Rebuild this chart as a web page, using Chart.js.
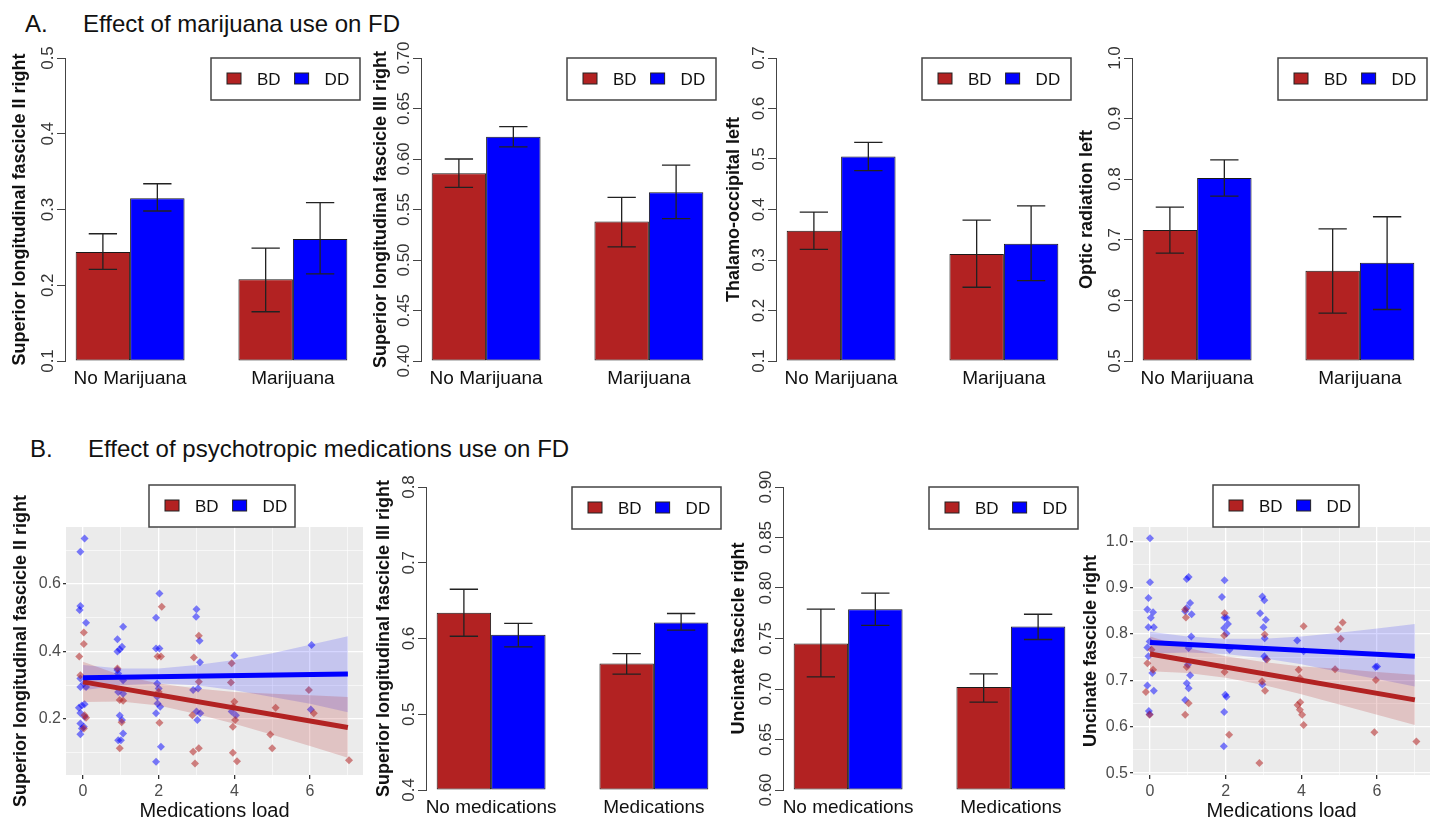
<!DOCTYPE html>
<html>
<head>
<meta charset="utf-8">
<script src="https://cdn.jsdelivr.net/npm/chart.js@4.4.1/dist/chart.umd.min.js"></script>
<style>
  body { margin: 0; background: #fff; font-family: "Liberation Sans", Arial, sans-serif; }
  #page { position: relative; width: 1434px; height: 823px; overflow: hidden; background: #fff; }
  .ttl { position: absolute; font-size: 24px; line-height: 24px; color: #111; white-space: nowrap; }
  canvas { position: absolute; }
</style>
</head>
<body>
<div id="page">
  <div class="ttl" style="left:25px;top:12px">A.</div>
  <div class="ttl" style="left:83px;top:12px">Effect of marijuana use on FD</div>
  <div class="ttl" style="left:30px;top:437px">B.</div>
  <div class="ttl" style="left:88px;top:437px">Effect of psychotropic medications use on FD</div>
</div>
<script>
'use strict';

// ---- data ----
const groupsMj = ['No Marijuana', 'Marijuana'];
const groupsMed = ['No medications', 'Medications'];

// A1 superior longitudinal fascicle II right
const a1Bd = [0.244, 0.208];
const a1BdCi = [[0.221, 0.268], [0.165, 0.249]];
const a1Dd = [0.315, 0.261];
const a1DdCi = [[0.298, 0.334], [0.215, 0.309]];
// A2 superior longitudinal fascicle III right
const a2Bd = [0.586, 0.538];
const a2BdCi = [[0.572, 0.600], [0.513, 0.562]];
const a2Dd = [0.622, 0.567];
const a2DdCi = [[0.612, 0.632], [0.541, 0.594]];
// A3 thalamo-occipital left
const a3Bd = [0.358, 0.312];
const a3BdCi = [[0.321, 0.395], [0.246, 0.379]];
const a3Dd = [0.505, 0.332];
const a3DdCi = [[0.477, 0.533], [0.259, 0.407]];
// A4 optic radiation left
const a4Bd = [0.716, 0.649];
const a4BdCi = [[0.678, 0.754], [0.579, 0.718]];
const a4Dd = [0.802, 0.662];
const a4DdCi = [[0.772, 0.832], [0.585, 0.738]];
// B2 superior longitudinal fascicle III right
const b2Bd = [0.634, 0.567];
const b2BdCi = [[0.603, 0.665], [0.553, 0.580]];
const b2Dd = [0.605, 0.621];
const b2DdCi = [[0.589, 0.620], [0.611, 0.633]];
// B3 uncinate fascicle right
const b3Bd = [0.745, 0.702];
const b3BdCi = [[0.712, 0.779], [0.687, 0.715]];
const b3Dd = [0.779, 0.762];
const b3DdCi = [[0.763, 0.795], [0.749, 0.774]];

// B1 scatter, SLF II right vs medications load
const b1DdX = [0.04, -0.07, -0.07, -0.09, 0.08, -0.07, 0.02, -0.07, 0.08, -0.11, -0.03, 0.04, -0.07, 0.04, -0.07, 0.02, -0.03, -0.07,
  1.06, 0.91, 0.97, 1.03, 0.91, 0.91, 0.93, 1.06, 0.93, 1.06, 0.97, 1.03, 1.06, 1.0, 0.93,
  2.02, 1.93, 1.93, 2.02, 1.96, 2.0, 1.96, 2.04, 1.93, 2.06, 1.93, 1.97,
  3.0, 2.99, 3.08, 3.09, 2.91, 3.04, 3.0, 3.1, 3.02,
  4.0, 3.93, 4.04, 6.04, 6.02];
const b1DdY = [0.735, 0.696, 0.535, 0.523, 0.485, 0.32, 0.305, 0.295, 0.295, 0.233, 0.24, 0.244, 0.218, 0.207, 0.187, 0.177, 0.172, 0.155,
  0.473, 0.436, 0.406, 0.414, 0.40, 0.345, 0.335, 0.315, 0.28, 0.275, 0.21, 0.197, 0.157, 0.137, 0.137,
  0.572, 0.50, 0.409, 0.409, 0.305, 0.29, 0.266, 0.236, 0.217, 0.118, 0.073, 0.246,
  0.525, 0.503, 0.432, 0.368, 0.286, 0.29, 0.222, 0.217, 0.197,
  0.388, 0.222, 0.211, 0.419, 0.228];
const b1BdX = [-0.1, 0.02, 0.02, -0.07, 0.04, 0.08, 0.02,
  0.91, 0.97, 1.06, 1.02, 0.97,
  2.08, 2.06, 1.97, 2.02, 2.0,
  2.93, 3.06, 3.06, 2.89, 2.91, 3.06, 2.96,
  3.93, 3.91, 4.0, 3.97, 4.02, 3.96, 3.96, 4.07,
  5.09, 4.95, 5.0, 5.97, 6.1, 7.03];
const b1BdY = [0.385, 0.456, 0.422, 0.33, 0.211, 0.204, 0.172,
  0.35, 0.256, 0.254, 0.19, 0.113,
  0.533, 0.385, 0.385, 0.189, 0.28,
  0.382, 0.447, 0.31, 0.211, 0.103, 0.113, 0.068,
  0.365, 0.308, 0.251, 0.236, 0.197, 0.177, 0.10, 0.075,
  0.233, 0.154, 0.113, 0.286, 0.217, 0.078];

// B4 scatter, uncinate fascicle right vs medications load
const b4DdX = [0, 0, -0.04, -0.07, 0.08, 0.02, 0.1, -0.04, -0.01, -0.04, 0.06, 0.1, -0.07, -0.03, -0.01, -0.07,
  1.02, 0.97, 1.06, 0.97, 0.93, 1.1, 1.09, 1.02, 1.0, 1.06, 0.97, 1.02, 0.93,
  1.97, 1.9, 1.97, 2.02, 1.96, 2.02, 2.06, 2.1, 1.99, 2.02, 1.96, 1.95,
  2.97, 3.02, 2.91, 3.06, 3.0, 3.03, 3.02, 3.06, 2.97,
  3.89, 4.06, 6.0, 5.96];
const b4DdY = [1.007, 0.912, 0.878, 0.853, 0.847, 0.835, 0.815, 0.815, 0.784, 0.752, 0.716, 0.678, 0.689, 0.634, 0.627, 0.771,
  0.923, 0.919, 0.867, 0.856, 0.849, 0.843, 0.795, 0.77, 0.734, 0.711, 0.694, 0.683, 0.658,
  0.916, 0.88, 0.836, 0.835, 0.813, 0.801, 0.822, 0.766, 0.669, 0.665, 0.632, 0.558,
  0.881, 0.873, 0.845, 0.831, 0.815, 0.791, 0.752, 0.746, 0.691,
  0.786, 0.763, 0.73, 0.729];
const b4BdX = [-0.07, 0.08, -0.11, -0.01, 0.04,
  0.93, 0.95, 0.97, 1.02, 0.93,
  1.97, 1.96, 1.97, 2.09,
  3.03, 3.09, 2.96, 3.04, 2.89,
  4.06, 3.93, 3.96, 3.9, 3.97, 3.96, 4.02, 4.06,
  5.09, 4.97, 5.04, 4.89, 5.97, 5.93, 7.04];
const b4BdY = [0.737, 0.723, 0.675, 0.626, 0.766,
  0.853, 0.836, 0.729, 0.651, 0.626,
  0.845, 0.797, 0.718, 0.583,
  0.799, 0.745, 0.698, 0.678, 0.522,
  0.817, 0.723, 0.705, 0.647, 0.653, 0.637, 0.626, 0.604,
  0.825, 0.811, 0.79, 0.724, 0.701, 0.588, 0.568];

// fitted lines and confidence bands
const fitX = [0, 7];
const b1BdFit = [0.310, 0.175];
const b1DdFit = [0.322, 0.333];
const b4BdFit = [0.757, 0.658];
const b4DdFit = [0.782, 0.752];
const bandX = [0, 1, 2, 3, 4, 5, 6, 7];
const b1BdLo = [0.250, 0.252, 0.240, 0.215, 0.186, 0.153, 0.120, 0.085];
const b1BdHi = [0.370, 0.330, 0.305, 0.290, 0.280, 0.275, 0.270, 0.265];
const b1DdLo = [0.285, 0.300, 0.305, 0.300, 0.285, 0.265, 0.245, 0.220];
const b1DdHi = [0.360, 0.350, 0.350, 0.360, 0.375, 0.395, 0.420, 0.445];
const b4BdLo = [0.720, 0.716, 0.706, 0.690, 0.670, 0.648, 0.626, 0.604];
const b4BdHi = [0.795, 0.770, 0.752, 0.740, 0.730, 0.725, 0.718, 0.712];
const b4DdLo = [0.758, 0.760, 0.757, 0.748, 0.735, 0.718, 0.703, 0.687];
const b4DdHi = [0.805, 0.795, 0.790, 0.790, 0.795, 0.803, 0.812, 0.822];

// ---- drawing ----
const RED = '#B22222';
const BLUE = '#0000FF';
const FONT = '"Liberation Sans", Arial, sans-serif';
Chart.defaults.font.family = FONT;
Chart.defaults.devicePixelRatio = 1;

function addCanvas(left, top, w, h) {
  let c = document.createElement('canvas');
  c.width = w;
  c.height = h;
  c.style.left = left + 'px';
  c.style.top = top + 'px';
  document.getElementById('page').appendChild(c);
  return c;
}

// error bars from dataset.ci
const errBars = {
  id: 'errBars',
  afterDatasetsDraw(chart) {
    let ctx = chart.ctx, y = chart.scales.y;
    ctx.save();
    ctx.strokeStyle = '#222';
    ctx.lineWidth = 1.3;
    chart.data.datasets.forEach((ds, di) => {
      chart.getDatasetMeta(di).data.forEach((bar, i) => {
        let lo = y.getPixelForValue(ds.ci[i][0]);
        let hi = y.getPixelForValue(ds.ci[i][1]);
        let half = bar.width * 0.26;
        ctx.beginPath();
        ctx.moveTo(bar.x, lo); ctx.lineTo(bar.x, hi);
        ctx.moveTo(bar.x - half, lo); ctx.lineTo(bar.x + half, lo);
        ctx.moveTo(bar.x - half, hi); ctx.lineTo(bar.x + half, hi);
        ctx.stroke();
      });
    });
    ctx.restore();
  }
};

// R style y labels, parallel to the axis
const rotTicks = {
  id: 'rotTicks',
  afterDraw(chart) {
    let ctx = chart.ctx, y = chart.scales.y;
    ctx.save();
    ctx.font = '17px ' + FONT;
    ctx.fillStyle = '#333';
    ctx.textAlign = 'center';
    ctx.textBaseline = 'middle';
    y.ticks.forEach(t => {
      ctx.save();
      ctx.translate(chart.chartArea.left - 17, y.getPixelForValue(t.value));
      ctx.rotate(-Math.PI / 2);
      ctx.fillText(t.label, 0, 0);
      ctx.restore();
    });
    ctx.restore();
  }
};

// boxed legend like the R / ggplot one
const boxLegend = {
  id: 'boxLegend',
  afterDraw(chart, args, opts) {
    let ctx = chart.ctx, a = chart.chartArea;
    let x0 = a.left + opts.dx, y0 = a.top + opts.dy;
    ctx.save();
    ctx.fillStyle = '#fff';
    ctx.fillRect(x0, y0, opts.w, opts.h);
    ctx.strokeStyle = '#444';
    ctx.lineWidth = 1.5;
    ctx.strokeRect(x0, y0, opts.w, opts.h);
    ctx.font = '17px ' + FONT;
    ctx.textBaseline = 'middle';
    let x = x0 + 16, cy = y0 + opts.h / 2;
    chart.data.datasets.filter(d => d.key).forEach(ds => {
      ctx.fillStyle = ds.keyColor;
      ctx.fillRect(x, cy - 6, 14, 11);
      ctx.lineWidth = 1;
      ctx.strokeStyle = '#222';
      ctx.strokeRect(x, cy - 6, 14, 11);
      x += 30;
      ctx.fillStyle = '#111';
      ctx.fillText(ds.label, x, cy + 1);
      x += ctx.measureText(ds.label).width + 14;
    });
    ctx.restore();
  }
};

const panelBg = {
  id: 'panelBg',
  beforeDraw(chart) {
    let a = chart.chartArea, ctx = chart.ctx;
    ctx.save();
    ctx.fillStyle = '#EBEBEB';
    ctx.fillRect(a.left, a.top, a.right - a.left, a.bottom - a.top);
    ctx.restore();
  }
};

function barPanel(p) {
  let cv = addCanvas(p.axisX - 65, p.top - 28, 364, 363);
  let ds = (label, vals, ci, color) => ({
    label: label, data: vals.map((v, i) => ({ x: i, y: v })), ci: ci,
    backgroundColor: color, borderColor: '#1a1a1a', borderWidth: 1, borderSkipped: false,
    base: p.min, key: true, keyColor: color
  });
  new Chart(cv, {
    type: 'bar',
    data: { datasets: [ds('BD', p.bd, p.bdCi, RED), ds('DD', p.dd, p.ddCi, BLUE)] },
    options: {
      responsive: false,
      animation: false,
      layout: { padding: { top: 28, right: 6, left: p.pad, bottom: 0 } },
      datasets: { bar: { categoryPercentage: 0.669, barPercentage: 1 } },
      plugins: {
        legend: { display: false },
        tooltip: { enabled: false },
        boxLegend: { dx: 146, dy: 0, w: 149, h: 42 }
      },
      scales: {
        x: {
          type: 'linear', min: -0.4, max: 1.4, offset: false,
          afterBuildTicks: s => { s.ticks = p.groups.map((g, i) => ({ value: i })); },
          afterFit: s => { s.height = 32; },
          ticks: { callback: v => p.groups[v], font: { size: 19 }, color: '#111', padding: 6, maxRotation: 0, autoSkip: false },
          grid: { display: false, drawTicks: false },
          border: { display: false }
        },
        y: {
          min: p.min, max: p.max,
          afterFit: s => { s.width = 65 - p.pad; },
          ticks: { stepSize: p.step, color: 'rgba(0,0,0,0)', callback: v => v.toFixed(p.digits) },
          grid: { drawOnChartArea: false, tickLength: 8, tickColor: '#444', lineWidth: 1 },
          border: { color: '#444', width: 1 },
          title: { display: true, text: p.title, font: { size: 18, weight: 'bold' }, color: '#111', padding: 0 }
        }
      }
    },
    plugins: [errBars, rotTicks, boxLegend]
  });
}

function scatterPanel(p) {
  let cv = addCanvas(p.left, 440, p.width, 383);
  let pt = (xs, ys) => xs.map((x, i) => ({ x: x, y: ys[i] }));
  let band = (ys, fill, color) => ({
    type: 'line', data: pt(bandX, ys), fill: fill, backgroundColor: color,
    borderColor: 'rgba(0,0,0,0)', borderWidth: 0, pointRadius: 0, order: 3
  });
  let isMajor = (v, step) => Math.abs(v / step - Math.round(v / step)) < 1e-6;
  new Chart(cv, {
    type: 'scatter',
    data: {
      datasets: [
        { type: 'line', label: 'DD fit', data: pt(fitX, p.ddFit), borderColor: BLUE, borderWidth: 5, pointRadius: 0, order: 1 },
        { type: 'line', label: 'BD fit', data: pt(fitX, p.bdFit), borderColor: RED, borderWidth: 5, pointRadius: 0, order: 2 },
        band(p.bdHi, '+1', 'rgba(178,34,34,0.2)'),
        band(p.bdLo, false, 'rgba(0,0,0,0)'),
        band(p.ddHi, '+1', 'rgba(0,0,255,0.16)'),
        band(p.ddLo, false, 'rgba(0,0,0,0)'),
        { label: 'BD', data: pt(p.bdX, p.bdY), pointStyle: 'rectRot', pointRadius: 4, borderWidth: 0,
          backgroundColor: 'rgba(178,34,34,0.55)', key: true, keyColor: RED, order: 5 },
        { label: 'DD', data: pt(p.ddX, p.ddY), pointStyle: 'rectRot', pointRadius: 4, borderWidth: 0,
          backgroundColor: 'rgba(0,0,255,0.5)', key: true, keyColor: BLUE, order: 5 }
      ]
    },
    options: {
      responsive: false,
      animation: false,
      layout: { padding: { top: 87, right: 0, left: p.pad, bottom: 0 } },
      plugins: {
        legend: { display: false },
        tooltip: { enabled: false },
        boxLegend: { dx: p.legDx, dy: -42, w: 146, h: 42 }
      },
      scales: {
        x: {
          type: 'linear', min: -0.45, max: 7.4,
          afterFit: s => { s.height = 48; },
          ticks: { stepSize: 1, includeBounds: false, autoSkip: false, maxRotation: 0, padding: 3,
            callback: v => (v % 2 === 0 ? String(v) : ''), font: { size: 16 }, color: '#4d4d4d' },
          grid: { color: '#fff', lineWidth: c => (c.tick && c.tick.value % 2 === 0 ? 1.3 : 0.6),
            tickColor: c => (c.tick && c.tick.value % 2 === 0 ? '#333' : 'rgba(0,0,0,0)'), tickLength: 4 },
          border: { display: false },
          title: { display: true, text: 'Medications load', font: { size: 20 }, color: '#111', padding: 0 }
        },
        y: {
          min: p.min, max: p.max,
          afterFit: s => { s.width = 66 - p.pad; },
          ticks: { stepSize: p.step, includeBounds: false, autoSkip: false, padding: 2,
            callback: v => (isMajor(v, p.labelStep) ? v.toFixed(1) : ''), font: { size: 16 }, color: '#4d4d4d' },
          grid: { color: '#fff', lineWidth: c => (c.tick && isMajor(c.tick.value, p.labelStep) ? 1.3 : 0.6),
            tickColor: c => (c.tick && isMajor(c.tick.value, p.labelStep) ? '#333' : 'rgba(0,0,0,0)'), tickLength: 3 },
          border: { display: false },
          title: { display: true, text: p.title, font: { size: 18, weight: 'bold' }, color: '#111', padding: 0 }
        }
      }
    },
    plugins: [panelBg, boxLegend]
  });
}

// top row
barPanel({ axisX: 65, top: 58, pad: 9, groups: groupsMj, min: 0.1, max: 0.5, step: 0.1, digits: 1,
  title: 'Superior longitudinal fascicle II right', bd: a1Bd, bdCi: a1BdCi, dd: a1Dd, ddCi: a1DdCi });
barPanel({ axisX: 421, top: 58, pad: 14, groups: groupsMj, min: 0.4, max: 0.7, step: 0.05, digits: 2,
  title: 'Superior longitudinal fascicle III right', bd: a2Bd, bdCi: a2BdCi, dd: a2Dd, ddCi: a2DdCi });
barPanel({ axisX: 776, top: 58, pad: 12, groups: groupsMj, min: 0.1, max: 0.7, step: 0.1, digits: 1,
  title: 'Thalamo-occipital left', bd: a3Bd, bdCi: a3BdCi, dd: a3Dd, ddCi: a3DdCi });
barPanel({ axisX: 1132, top: 58, pad: 9, groups: groupsMj, min: 0.5, max: 1.0, step: 0.1, digits: 1,
  title: 'Optic radiation left', bd: a4Bd, bdCi: a4BdCi, dd: a4Dd, ddCi: a4DdCi });

// bottom row
scatterPanel({ left: 0, width: 367, pad: 10, legDx: 83, min: 0.034, max: 0.769, step: 0.1, labelStep: 0.2,
  title: 'Superior longitudinal fascicle II right',
  bdX: b1BdX, bdY: b1BdY, ddX: b1DdX, ddY: b1DdY, bdFit: b1BdFit, ddFit: b1DdFit,
  bdLo: b1BdLo, bdHi: b1BdHi, ddLo: b1DdLo, ddHi: b1DdHi });
barPanel({ axisX: 426, top: 487, pad: 12, groups: groupsMed, min: 0.4, max: 0.8, step: 0.1, digits: 1,
  title: 'Superior longitudinal fascicle III right', bd: b2Bd, bdCi: b2BdCi, dd: b2Dd, ddCi: b2DdCi });
barPanel({ axisX: 783, top: 487, pad: 10, groups: groupsMed, min: 0.6, max: 0.9, step: 0.05, digits: 2,
  title: 'Uncinate fascicle right', bd: b3Bd, bdCi: b3BdCi, dd: b3Dd, ddCi: b3DdCi });
scatterPanel({ left: 1067, width: 367, pad: 13, legDx: 80, min: 0.496, max: 1.031, step: 0.05, labelStep: 0.1,
  title: 'Uncinate fascicle right',
  bdX: b4BdX, bdY: b4BdY, ddX: b4DdX, ddY: b4DdY, bdFit: b4BdFit, ddFit: b4DdFit,
  bdLo: b4BdLo, bdHi: b4BdHi, ddLo: b4DdLo, ddHi: b4DdHi });
</script>
</body>
</html>
